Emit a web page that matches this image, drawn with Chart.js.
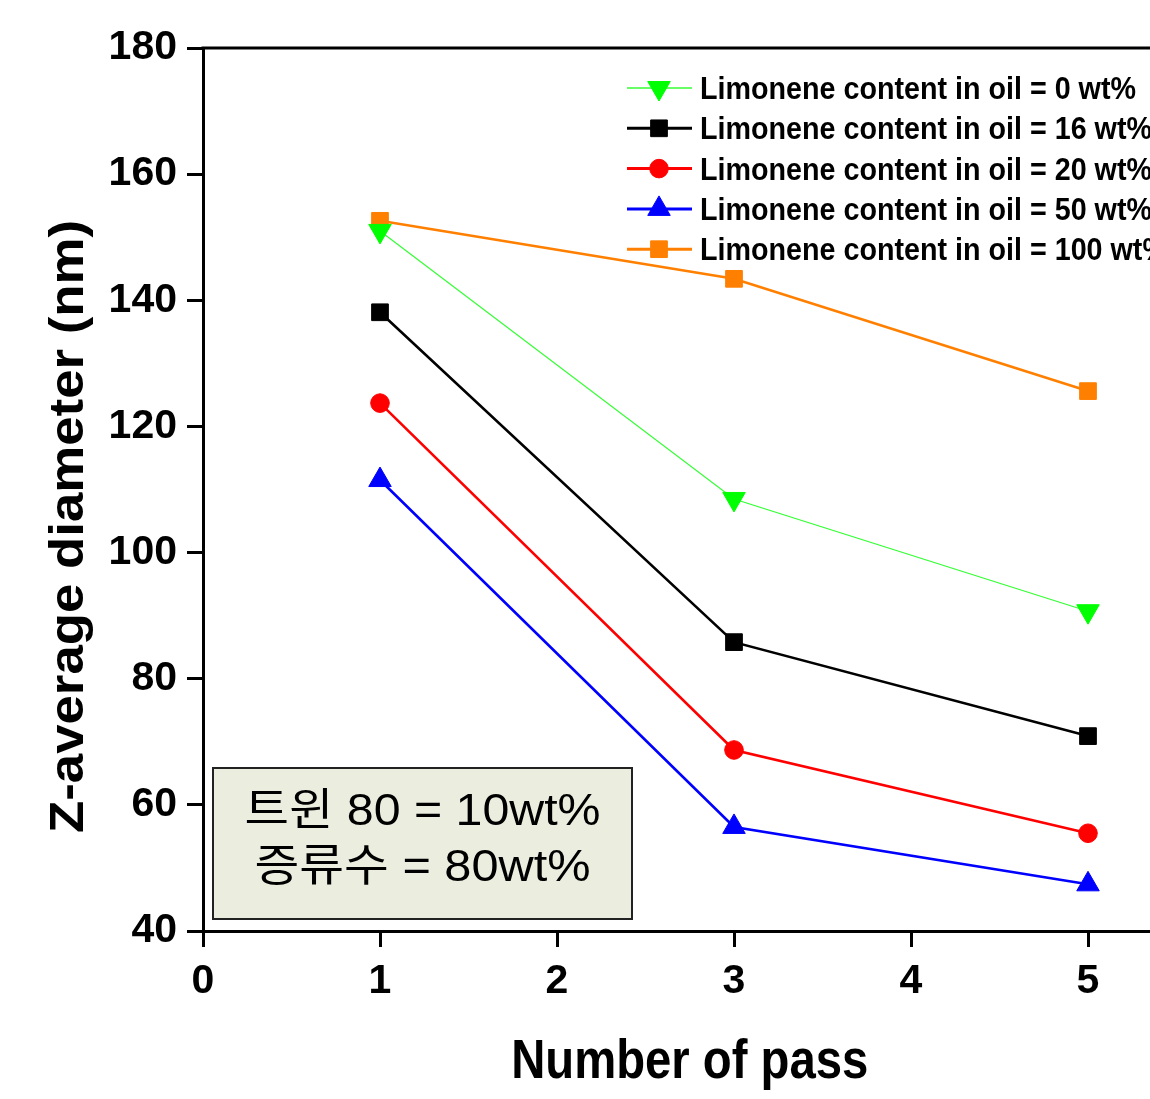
<!DOCTYPE html>
<html><head><meta charset="utf-8">
<script src="https://cdn.jsdelivr.net/npm/chart.js@4/dist/chart.umd.min.js"></script>
<style>
html,body{margin:0;padding:0;overflow:hidden;background:#fff;width:1150px;height:1099px}
#wrap{position:absolute;left:0;top:0;width:1200px;height:1099px}
</style></head>
<body><div id="wrap"><canvas id="c" width="1200" height="1099"></canvas></div>
<script>
// ---- data ----
const passes = [1, 3, 5];
const seriesLabels = [
  'Limonene content in oil = 0 wt%',
  'Limonene content in oil = 16 wt%',
  'Limonene content in oil = 20 wt%',
  'Limonene content in oil = 50 wt%',
  'Limonene content in oil = 100 wt%'
];
const limonene0 = [151.0, 108.5, 90.7];
const limonene16 = [138.1, 85.8, 70.9];
const limonene20 = [123.7, 68.7, 55.5];
const limonene50 = [111.5, 56.5, 47.4];
const limonene100 = [152.6, 143.4, 125.6];
const xTickValues = [0, 1, 2, 3, 4, 5];
const yTickValues = [40, 60, 80, 100, 120, 140, 160, 180];
const xTitle = 'Number of pass';
const yTitle = 'Z-average diameter (nm)';
const noteLines = ['트윈 80 = 10wt%', '증류수 = 80wt%'];

const SANS = "'Liberation Sans',Arial,sans-serif";
const KR = "'Liberation Sans','Noto Sans CJK KR',sans-serif";

const styles = [
  {color: '#00FF00', line: '#33FF33', width: 1.2, pointStyle: 'triangle', rotation: 180, radius: 13},
  {color: '#000000', line: '#000000', width: 2.6, pointStyle: 'rect', rotation: 0, radius: 11.8},
  {color: '#FF0000', line: '#FF0000', width: 2.6, pointStyle: 'circle', rotation: 0, radius: 9.3},
  {color: '#0000FF', line: '#0000FF', width: 2.6, pointStyle: 'triangle', rotation: 0, radius: 13},
  {color: '#FF8000', line: '#FF8000', width: 2.6, pointStyle: 'rect', rotation: 0, radius: 11.8}
];
const seriesValues = [limonene0, limonene16, limonene20, limonene50, limonene100];

const datasets = seriesValues.map((vals, i) => ({
  label: seriesLabels[i],
  data: passes.map((p, j) => ({x: p, y: vals[j]})),
  borderColor: styles[i].line,
  backgroundColor: styles[i].color,
  pointBackgroundColor: styles[i].color,
  pointBorderColor: styles[i].color,
  pointBorderWidth: 1,
  borderWidth: styles[i].width,
  pointStyle: styles[i].pointStyle,
  pointRotation: styles[i].rotation,
  pointRadius: styles[i].radius,
  pointHoverRadius: styles[i].radius,
  tension: 0,
  clip: false
}));

function drawMarker(ctx, st, x, y) {
  ctx.save();
  ctx.fillStyle = st.color;
  ctx.strokeStyle = st.color;
  ctx.lineWidth = 1;
  ctx.beginPath();
  const r = st.radius;
  if (st.pointStyle === 'circle') {
    ctx.arc(x, y, r, 0, Math.PI * 2);
  } else if (st.pointStyle === 'rect') {
    const s = Math.SQRT1_2 * r;
    ctx.rect(x - s, y - s, 2 * s, 2 * s);
  } else {
    const rot = st.rotation * Math.PI / 180;
    for (let k = 0; k < 3; k++) {
      const a = rot - Math.PI / 2 + k * 2 * Math.PI / 3;
      const px = x + Math.cos(a) * r, py = y + Math.sin(a) * r;
      if (k === 0) ctx.moveTo(px, py); else ctx.lineTo(px, py);
    }
    ctx.closePath();
  }
  ctx.fill();
  ctx.stroke();
  ctx.restore();
}

// draw text fitted to a target width (horizontal scale only)
function fitText(ctx, text, x, y, targetW, align) {
  const w = ctx.measureText(text).width;
  const s = targetW / w;
  ctx.save();
  ctx.translate(x, y);
  ctx.scale(s, 1);
  ctx.textAlign = align;
  ctx.fillText(text, 0, 0);
  ctx.restore();
  return s;
}

const decorations = {
  id: 'decorations',
  afterDraw(chart) {
    const ctx = chart.ctx;
    const a = chart.chartArea;
    // top frame line
    ctx.save();
    ctx.strokeStyle = '#000';
    ctx.lineWidth = 3;
    ctx.beginPath();
    ctx.moveTo(a.left - 1.5, a.top);
    ctx.lineTo(a.right, a.top);
    ctx.stroke();
    ctx.restore();

    // y axis title
    ctx.save();
    ctx.translate(83, (a.top + a.bottom) / 2 + 37);
    ctx.rotate(-Math.PI / 2);
    ctx.font = 'bold 49px ' + SANS;
    ctx.fillStyle = '#000';
    ctx.textBaseline = 'alphabetic';
    fitText(ctx, yTitle, 0, 0, 613, 'center');
    ctx.restore();

    // x axis title
    ctx.save();
    ctx.font = 'bold 55px ' + SANS;
    ctx.fillStyle = '#000';
    ctx.textBaseline = 'alphabetic';
    fitText(ctx, xTitle, (a.left + a.right) / 2, 1078, 357, 'center');
    ctx.restore();

    // legend
    const lx0 = a.left + 424, lx1 = a.left + 489, mx = a.left + 456, tx = a.left + 497;
    const ly0 = a.top + 40, dy = 40.3;
    ctx.save();
    ctx.font = 'bold 31px ' + SANS;
    ctx.textBaseline = 'alphabetic';
    const s = 436 / ctx.measureText(chart.data.datasets[0].label).width;
    chart.data.datasets.forEach((ds, i) => {
      const y = ly0 + i * dy;
      ctx.strokeStyle = styles[i].line;
      ctx.lineWidth = styles[i].width + 0.4;
      ctx.beginPath();
      ctx.moveTo(lx0, y);
      ctx.lineTo(lx1, y);
      ctx.stroke();
      drawMarker(ctx, styles[i], mx, y);
      ctx.fillStyle = '#000';
      ctx.save();
      ctx.translate(tx, y + 11);
      ctx.scale(s, 1);
      ctx.textAlign = 'left';
      ctx.fillText(ds.label, 0, 0);
      ctx.restore();
    });
    ctx.restore();

    // annotation box
    const bx = a.left + 10, by = a.bottom - 163, bw = 419, bh = 151;
    ctx.save();
    ctx.fillStyle = '#EBEEDF';
    ctx.fillRect(bx, by, bw, bh);
    ctx.strokeStyle = '#222';
    ctx.lineWidth = 2;
    ctx.strokeRect(bx, by, bw, bh);
    ctx.fillStyle = '#000';
    ctx.font = '44px ' + KR;
    ctx.textBaseline = 'alphabetic';
    fitText(ctx, noteLines[0], bx + bw / 2, by + 57, 356, 'center');
    fitText(ctx, noteLines[1], bx + bw / 2, by + 113, 336, 'center');
    ctx.restore();
  }
};

new Chart(document.getElementById('c'), {
  type: 'line',
  data: {datasets},
  options: {
    responsive: false,
    animation: false,
    devicePixelRatio: 1,
    layout: {padding: {top: 48, right: 23.5, left: 0, bottom: 0}},
    plugins: {legend: {display: false}, tooltip: {enabled: false}},
    scales: {
      x: {
        type: 'linear',
        min: 0, max: 5.5,
        afterBuildTicks: s => { s.ticks = xTickValues.map(v => ({value: v})); },
        afterFit: s => { s.height = 168; },
        grid: {drawOnChartArea: false, drawTicks: true, tickLength: 16, tickWidth: 3, tickColor: '#000'},
        border: {display: true, width: 3, color: '#000'},
        ticks: {color: '#000', padding: 10, maxRotation: 0, font: {family: SANS, size: 41, weight: 'bold'}},
        title: {display: false, text: xTitle}
      },
      y: {
        type: 'linear',
        min: 40, max: 180,
        afterBuildTicks: s => { s.ticks = yTickValues.map(v => ({value: v})); },
        afterFit: s => { s.width = 203; },
        grid: {drawOnChartArea: false, drawTicks: true, tickLength: 16, tickWidth: 3, tickColor: '#000'},
        border: {display: true, width: 3, color: '#000'},
        ticks: {color: '#000', padding: 10, font: {family: SANS, size: 41, weight: 'bold'}},
        title: {display: false, text: yTitle}
      }
    }
  },
  plugins: [decorations]
});
</script>
</body></html>
